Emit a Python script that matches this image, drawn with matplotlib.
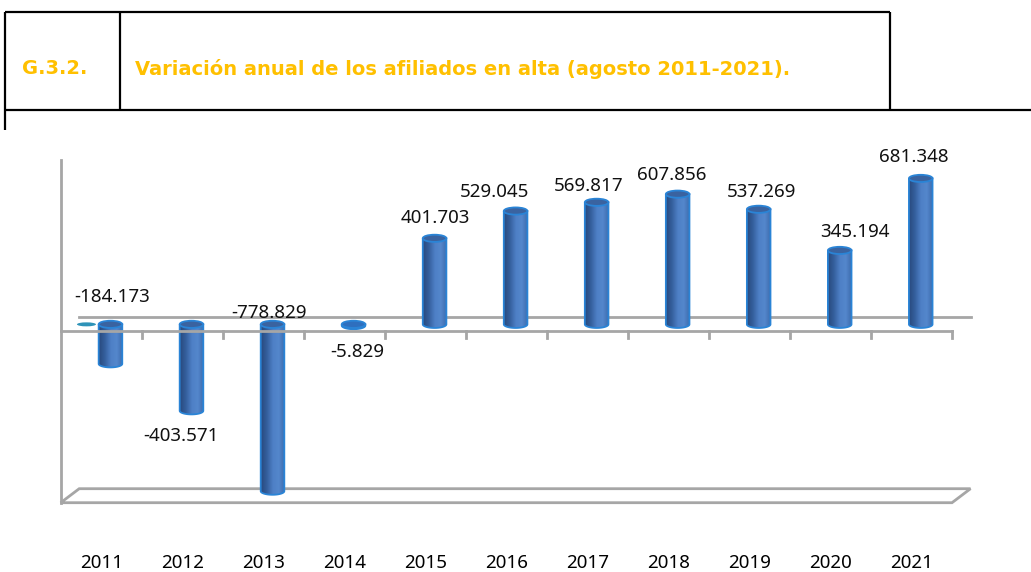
import matplotlib
matplotlib.use("Agg")
import matplotlib.pyplot as plt
import numpy as np
from matplotlib.patches import Ellipse, PathPatch, Polygon
from matplotlib.path import Path
from matplotlib.colors import LinearSegmentedColormap

# ---------------- data ----------------
years = ['2011', '2012', '2013', '2014', '2015', '2016',
         '2017', '2018', '2019', '2020', '2021']
values = [-184.173, -403.571, -778.829, -5.829, 401.703, 529.045,
          569.817, 607.856, 537.269, 345.194, 681.348]
value_labels = ['-184.173', '-403.571', '-778.829', '-5.829', '401.703',
                '529.045', '569.817', '607.856', '537.269', '345.194', '681.348']
code_text = 'G.3.2.'
title_text = 'Variación anual de los afiliados en alta (agosto 2011-2021).'

# label offsets (pixels) from the end of each cylinder, as placed in the original
label_dx = [2, -10, -4, 4, 1, -21, -8, -6, 3, 15, -7]
label_dy = [67, -25, 178, -26, 20, 19, 16, 19, 17, 18, 21]

# ---------------- style ----------------
W, H = 1031, 572
fig = plt.figure(figsize=(W / 100, H / 100), dpi=100)
fig.patch.set_facecolor('white')

GOLD = '#FFC000'
GRID = '#A6A6A6'
OUTLINE = '#2A84D6'
CAP = '#3A63A0'

# header frame (overlay axes in pixel coordinates)
hdr = fig.add_axes([0, 0, 1, 1], zorder=0)
hdr.set_xlim(0, W)
hdr.set_ylim(H, 0)
hdr.axis('off')
lk = dict(color='black', lw=1.6, solid_capstyle='butt')
hdr.plot([5, 890], [12, 12], **lk)
hdr.plot([5, W], [110, 110], **lk)
hdr.plot([5, 5], [12, 130], **lk)
hdr.plot([120, 120], [12, 110], **lk)
hdr.plot([890, 890], [12, 110], **lk)
hdr.text(22, 69, code_text, color=GOLD, fontsize=14, fontweight='bold',
         family='DejaVu Sans', va='center', ha='left')
hdr.text(135, 69, title_text, color=GOLD, fontsize=14, fontweight='bold',
         family='DejaVu Sans', va='center', ha='left')

# chart axes: front plane
left_px, right_px, top_px, bot_px = 60.7, 952.0, 160.0, 502.7
ax = fig.add_axes([left_px / W, 1 - bot_px / H, (right_px - left_px) / W,
                   (bot_px - top_px) / H], zorder=1)
ax.set_facecolor('none')
n = len(values)
ax.set_xlim(-0.5, n - 0.5)
ax.set_ylim(-800, 800)
for s in ['top', 'right', 'bottom']:
    ax.spines[s].set_visible(False)
ax.spines['left'].set_color(GRID)
ax.spines['left'].set_linewidth(2)
ax.set_yticks([])
ax.set_xticks(range(n), years)
ax.tick_params(axis='x', length=0, pad=37, labelsize=13.5)
for t in ax.get_xticklabels():
    t.set_family('Noto Sans')

# 3D depth offsets in data units
px_per_cat = (right_px - left_px) / n
px_per_val = (bot_px - top_px) / 1600.0
depth_dx = 18.5 / px_per_cat
depth_dy = 14.0 / px_per_val
mid_dx, mid_dy = depth_dx / 2, depth_dy / 2

# floor
ymin = -800
floor = Polygon([(-0.5, ymin), (n - 0.5, ymin), (n - 0.5 + depth_dx, ymin + depth_dy),
                 (-0.5 + depth_dx, ymin + depth_dy)], closed=True, fc='white',
                ec=GRID, lw=2, clip_on=False, zorder=1)
ax.add_patch(floor)

# zero lines (back and front) with ticks
ax.plot([-0.5 + depth_dx, n - 0.5 + depth_dx], [depth_dy, depth_dy], color=GRID,
        lw=2, clip_on=False, zorder=1)
tick_len = 7.0 / px_per_val
ax.plot([-0.5, n - 0.5], [0, 0], color=GRID, lw=2, clip_on=False, zorder=5)
for b in np.arange(0.5, n, 1.0):
    ax.plot([b, b], [0, -tick_len], color=GRID, lw=2, clip_on=False, zorder=5)

# cylinders
cmap = LinearSegmentedColormap.from_list(
    'cyl', ['#294A7E', '#35609E', '#4E80C6', '#5487CC', '#3D6AAC'])
grad = np.linspace(0, 1, 64).reshape(1, -1)
half_w = 11.8 / px_per_cat
half_e = 3.6 / px_per_val

def arc(cx, cy, a, b, t0, t1, k=40):
    t = np.linspace(t0, t1, k)
    return np.column_stack([cx + a * np.cos(t), cy + b * np.sin(t)])

for i, v in enumerate(values):
    cx = i + mid_dx
    top = mid_dy + max(v, 0)
    bot = mid_dy + min(v, 0)
    verts = [(cx - half_w, top), (cx - half_w, bot)]
    verts += [tuple(p) for p in arc(cx, bot, half_w, half_e, np.pi, 2 * np.pi)]
    verts += [(cx + half_w, top), (cx - half_w, top)]
    body = Path(verts)
    patch = PathPatch(body, fc='none', ec=OUTLINE, lw=1.3, zorder=4)
    im = ax.imshow(grad, cmap=cmap, aspect='auto', interpolation='bilinear',
                   extent=[cx - half_w, cx + half_w, bot - half_e, top], zorder=3)
    ax.add_patch(patch)
    im.set_clip_path(patch)
    cap = Ellipse((cx, top), 2 * half_w, 2 * half_e, fc=CAP if abs(v) > 20 else '#2F6FBE',
                  ec=OUTLINE, lw=1.3, zorder=6)
    ax.add_patch(cap)
    ax.annotate(value_labels[i], (cx, bot if v < 0 else top),
                xytext=(label_dx[i], label_dy[i]), textcoords='offset pixels',
                ha='center', va='center', fontsize=13.5, family='Noto Sans',
                color='#111111', annotation_clip=False, zorder=8)

# small flat marker left of the first cylinder
ax.add_patch(Ellipse((0 + mid_dx - 24 / px_per_cat, mid_dy), 19 / px_per_cat,
                     4 / px_per_val, fc='#2E93B8', ec='none', zorder=6))

fig.savefig('out.png', dpi=100, facecolor='white')
